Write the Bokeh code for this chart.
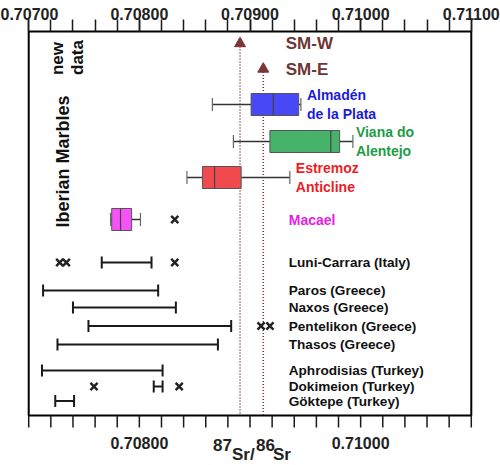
from math import pi
from bokeh.plotting import figure
from bokeh.models import Range1d, LinearAxis, FixedTicker, PrintfTickFormatter, ColumnDataSource
from bokeh.core.properties import value
from bokeh.embed import file_html
from bokeh.resources import INLINE

# ---------------- data ----------------
IBERIAN = ["Almadén\nde la Plata", "Viana do\nAlentejo", "Estremoz\nAnticline", "Macael"]
IB_LOW = [0.70866, 0.70885, 0.70843, 0.70774]
IB_Q1 = [0.70901, 0.70918, 0.70857, 0.70775]
IB_MED = [0.70921, 0.70973, 0.70868, 0.70783]
IB_Q3 = [0.70944, 0.70981, 0.70892, 0.70793]
IB_HIGH = [0.70946, 0.70993, 0.70936, 0.70801]
IB_FILL = ["#4848f4", "#46b26a", "#f04a4e", "#f553f5"]
IB_TEXT = ["#1c1cd8", "#1d9d48", "#ee1c25", "#e31ee3"]
MACAEL_OUTLIERS = [0.70832]

OTHERS = ["Luni-Carrara (Italy)", "Paros (Greece)", "Naxos (Greece)", "Pentelikon (Greece)",
          "Thasos (Greece)", "Aphrodisias (Turkey)", "Dokimeion (Turkey)", "Göktepe (Turkey)"]
OT_LOW = [0.70766, 0.70713, 0.70740, 0.70754, 0.70726, 0.70712, 0.70813, 0.70724]
OT_HIGH = [0.70811, 0.70817, 0.70833, 0.70883, 0.70871, 0.70821, 0.70821, 0.70741]
LUNI_POINTS = [0.70728, 0.70734, 0.70832]
PENTELIKON_POINTS = [0.70910, 0.70918]
DOKIMEION_POINTS = [0.70759, 0.70836]

SEAWATER = ["SM-W", "SM-E"]
SEAWATER_SR = [0.70891, 0.70912]

TOP_TICKS = [0.707, 0.708, 0.709, 0.710, 0.711]
BOTTOM_TICKS = [0.708, 0.710]
MINOR_TICKS = [0.7070, 0.7072, 0.7074, 0.7076, 0.7078, 0.7080, 0.7082, 0.7084, 0.7086, 0.7088,
               0.7090, 0.7092, 0.7094, 0.7096, 0.7098, 0.7100, 0.7102, 0.7104, 0.7106, 0.7108, 0.7110]
X_TITLE = [("87", "sup"), ("Sr/", "base"), ("86", "sup"), ("Sr", "base")]

# ---------------- layout ----------------
X_START, X_END, X_PAD = 0.707, 0.711, 0.00002
Y_FRAME_BOTTOM = 384
IB_ROW = [73, 110, 146, 188]
OT_ROW = [231, 259, 276, 294.5, 313, 339, 355, 369.5]
SW_ROW = [12, 37.5]
LABEL_X = 0.70935
IB_LABEL_OFFSET = [6, 3, 6, 0]
FONT = "Liberation Sans"
BOX_H = 22
TICK_LEN = 12
ARROW_COLOR = "#7d3535"
INK = "#1a1a1a"

p = figure(width=500, height=465,
           x_range=Range1d(X_START - X_PAD, X_END + X_PAD), y_range=Range1d(434, -2),
           output_backend="svg", toolbar_location=None, x_axis_location=None,
           y_axis_location=None, min_border_left=26, min_border_right=27,
           min_border_top=29, min_border_bottom=0)
p.grid.visible = False
p.outline_line_color = None
p.background_fill_color = "white"
p.border_fill_color = "white"

# top axis (real axis)
top_axis = LinearAxis()
p.add_layout(top_axis, "above")
top_axis.ticker = FixedTicker(ticks=TOP_TICKS, minor_ticks=MINOR_TICKS)
top_axis.formatter = PrintfTickFormatter(format="%.5f")
top_axis.axis_line_color = None
top_axis.major_tick_out = TICK_LEN - 2
top_axis.major_tick_in = 2
top_axis.minor_tick_out = TICK_LEN - 2
top_axis.minor_tick_in = 2
top_axis.major_tick_line_color = INK
top_axis.minor_tick_line_color = INK
top_axis.major_tick_line_width = 1.5
top_axis.minor_tick_line_width = 1.5
top_axis.major_label_text_font = FONT
top_axis.major_label_text_font_style = "bold"
top_axis.major_label_text_font_size = "16px"
top_axis.major_label_text_color = "#222222"
top_axis.major_label_standoff = 0

# plot border
p.quad(left=[X_START], right=[X_END], top=[0], bottom=[Y_FRAME_BOTTOM], fill_color=None,
       line_color="black", line_width=2)

# bottom ticks, labels and title (drawn below the border)
p.segment(x0=MINOR_TICKS, x1=MINOR_TICKS, y0=[Y_FRAME_BOTTOM] * len(MINOR_TICKS),
          y1=[Y_FRAME_BOTTOM + TICK_LEN] * len(MINOR_TICKS), line_color=INK, line_width=1.5)
p.text(x=BOTTOM_TICKS, y=[Y_FRAME_BOTTOM + 27] * len(BOTTOM_TICKS),
       text=["%.5f" % t for t in BOTTOM_TICKS], text_font=value(FONT), text_font_style="bold",
       text_font_size="16px", text_color="#222222", text_align="center", text_baseline="middle")
title_offsets = [-37, -18, 6, 23]
title_y = [Y_FRAME_BOTTOM + (29 if kind == "sup" else 38.5) for _, kind in X_TITLE]
p.text(x=[0.709] * len(X_TITLE), y=title_y, text=[t for t, _ in X_TITLE], x_offset=title_offsets,
       text_font=value(FONT), text_font_style="bold", text_font_size="17px",
       text_color="#222222", text_align="left", text_baseline="middle")

# seawater reference lines with arrows
sw = ColumnDataSource(dict(x=SEAWATER_SR, y=SW_ROW, y1=[Y_FRAME_BOTTOM] * 2, name=SEAWATER))
p.segment(x0="x", y0="y", x1="x", y1="y1", source=sw, line_color=ARROW_COLOR,
          line_width=1.6, line_dash="1 2")
p.scatter(x="x", y="y", source=sw, marker="triangle", size=11, fill_color=ARROW_COLOR,
          line_color=ARROW_COLOR)
p.text(x=[LABEL_X, LABEL_X], y=SW_ROW, text=SEAWATER, x_offset=-3, text_font=value(FONT),
       text_font_style="bold", text_font_size="17px", text_color="#6e3535",
       text_baseline="middle", text_align="left")

# Iberian box plots
ib = ColumnDataSource(dict(name=IBERIAN, low=IB_LOW, q1=IB_Q1, med=IB_MED, q3=IB_Q3,
                           high=IB_HIGH, row=IB_ROW, fill=IB_FILL, tcolor=IB_TEXT,
                           top=[r - BOX_H / 2 for r in IB_ROW],
                           bot=[r + BOX_H / 2 for r in IB_ROW],
                           lx=IB_HIGH[:3] + [LABEL_X], off=IB_LABEL_OFFSET))
p.segment(x0="low", y0="row", x1="q1", y1="row", source=ib, line_color="#333333", line_width=1.5)
p.segment(x0="q3", y0="row", x1="high", y1="row", source=ib, line_color="#333333", line_width=1.5)
p.scatter(x="low", y="row", source=ib, marker="dash", angle=pi / 2, size=13,
          line_color="#666666", line_width=1.2)
p.scatter(x="high", y="row", source=ib, marker="dash", angle=pi / 2, size=13,
          line_color="#666666", line_width=1.2)
p.hbar(y="row", left="q1", right="q3", height=BOX_H, source=ib, fill_color="fill",
       line_color="#555555", line_width=1)
p.segment(x0="med", y0="top", x1="med", y1="bot", source=ib, line_color="#444444", line_width=1.2)
p.text(x="lx", y="row", text="name", x_offset="off", source=ib, text_color="tcolor",
       text_font=value(FONT), text_font_style="bold", text_font_size="14px",
       text_baseline="middle", text_align="left", text_line_height=1.2)
p.scatter(x=MACAEL_OUTLIERS, y=[IB_ROW[3]] * len(MACAEL_OUTLIERS), marker="x", size=10,
          line_color="#222222", line_width=2.5)

# other Mediterranean marbles: ranges
ot = ColumnDataSource(dict(name=OTHERS, low=OT_LOW, high=OT_HIGH, row=OT_ROW,
                           lx=[LABEL_X] * len(OTHERS)))
p.segment(x0="low", y0="row", x1="high", y1="row", source=ot, line_color=INK, line_width=2)
p.scatter(x="low", y="row", source=ot, marker="dash", angle=pi / 2, size=12,
          line_color=INK, line_width=2)
p.scatter(x="high", y="row", source=ot, marker="dash", angle=pi / 2, size=12,
          line_color=INK, line_width=2)
p.text(x="lx", y="row", text="name", source=ot, text_color="#111111", text_font=value(FONT),
       text_font_style="bold", text_font_size="13.6px", text_baseline="middle", text_align="left")

pts_x = LUNI_POINTS + PENTELIKON_POINTS + DOKIMEION_POINTS
pts_y = ([OT_ROW[0]] * len(LUNI_POINTS) + [OT_ROW[3]] * len(PENTELIKON_POINTS)
         + [OT_ROW[6]] * len(DOKIMEION_POINTS))
p.scatter(x=pts_x, y=pts_y, marker="x", size=10, line_color="#222222", line_width=2.5)

# rotated group labels
p.text(x=[0.707313], y=[130], text=["Iberian Marbles"], angle=pi / 2, text_font=value(FONT),
       text_font_style="bold", text_font_size="18px", text_color="#111111",
       text_baseline="middle", text_align="center")
p.text(x=[0.707264, 0.707444], y=[27, 26], text=["new", "data"], angle=pi / 2,
       text_font=value(FONT), text_font_style="bold", text_font_size="17px",
       text_color="#111111", text_baseline="middle", text_align="center")

open("out.html", "w").write(file_html(p, INLINE))
